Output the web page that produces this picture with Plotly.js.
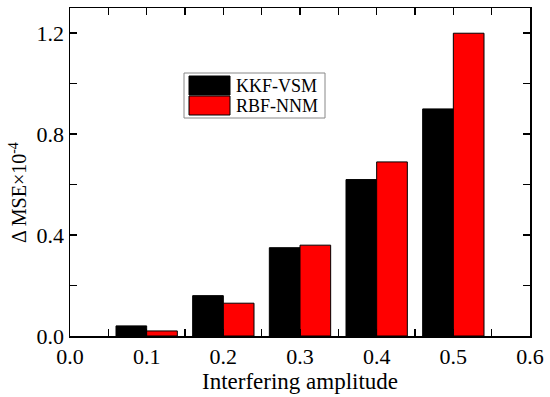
<!DOCTYPE html>
<html><head><meta charset="utf-8">
<script src="https://cdn.plot.ly/plotly-3.0.1.min.js"></script>
<style>html,body{margin:0;padding:0;background:#fff}#c{width:550px;height:397px}</style>
</head><body><div id="c"></div>
<script>
const amplitudes = [0.1, 0.2, 0.3, 0.4, 0.5];
const kkfVsm = [0.04, 0.16, 0.35, 0.62, 0.90];
const rbfNnm = [0.02, 0.13, 0.36, 0.69, 1.20];
const seriesNames = ['KKF-VSM', 'RBF-NNM'];
const seriesColors = ['#000000', '#ff0000'];
const xTicks = [0.0, 0.1, 0.2, 0.3, 0.4, 0.5, 0.6];
const yTicks = [0.0, 0.4, 0.8, 1.2];

const font = 'Liberation Serif, Times New Roman, serif';
const traces = [kkfVsm, rbfNnm].map((vals, i) => ({
  type: 'bar', x: amplitudes, y: vals, name: seriesNames[i],
  marker: {color: seriesColors[i], line: {color: '#000', width: 1}},
  showlegend: false
}));

const L = 70, W = 460, B = 336, H = 328;
const px = x => (x - L) / W, py = y => (B - y) / H;
const shapes = [], annotations = [];
shapes.push({type:'rect', xref:'paper', yref:'paper', x0:px(184), x1:px(325),
  y0:py(118), y1:py(73), line:{color:'#888', width:1}, fillcolor:'#fff', layer:'above'});
seriesNames.forEach((n, i) => {
  const top = 76 + i*20, bot = top + 19;
  shapes.push({type:'rect', xref:'paper', yref:'paper', x0:px(189), x1:px(230),
    y0:py(bot), y1:py(top), fillcolor:seriesColors[i], line:{color:'#000', width:1}, layer:'above'});
  annotations.push({xref:'paper', yref:'paper', x:px(234), y:py(top+9.5),
    xanchor:'left', yanchor:'middle', showarrow:false, text:n, font:{family:font, size:18, color:'#000'}});
});
annotations.push({xref:'paper', yref:'paper', x:px(18), y:py(193), textangle:-90,
  xanchor:'center', yanchor:'middle', showarrow:false,
  text:'Δ MSE×10<sup>-4</sup>', font:{family:font, size:20, color:'#000'}});

const layout = {
  width: 550, height: 397,
  margin: {l: 70, r: 20, t: 8, b: 61},
  paper_bgcolor: '#fff', plot_bgcolor: '#fff',
  barmode: 'group', bargap: 0.2, bargroupgap: 0,
  font: {family: font, size: 22, color: '#000'},
  xaxis: {
    range: [0, 0.6], tickvals: xTicks, ticktext: xTicks.map(v => v.toFixed(1)),
    ticks: 'inside', ticklen: 7, tickwidth: 1.5, tickcolor: '#000',
    minor: {dtick: 0.05, tick0: 0, ticks: 'inside', ticklen: 7, tickwidth: 1.5, tickcolor: '#000', showgrid: false},
    showline: true, linecolor: '#000', linewidth: 1.5, mirror: 'ticks',
    showgrid: false, zeroline: false,
    tickfont: {family: font, size: 22},
    title: {text: 'Interfering amplitude', font: {family: font, size: 23}, standoff: 1}
  },
  yaxis: {
    range: [0, 1.3], tickvals: yTicks, ticktext: yTicks.map(v => v.toFixed(1)),
    ticks: 'inside', ticklen: 7, tickwidth: 1.5, tickcolor: '#000',
    minor: {dtick: 0.2, tick0: 0, ticks: 'inside', ticklen: 7, tickwidth: 1.5, tickcolor: '#000', showgrid: false},
    showline: true, linecolor: '#000', linewidth: 1.5, mirror: 'ticks',
    showgrid: false, zeroline: false,
    tickfont: {family: font, size: 22}
  },
  shapes: shapes, annotations: annotations
};
Plotly.newPlot('c', traces, layout, {staticPlot: true, displayModeBar: false});
</script></body></html>
